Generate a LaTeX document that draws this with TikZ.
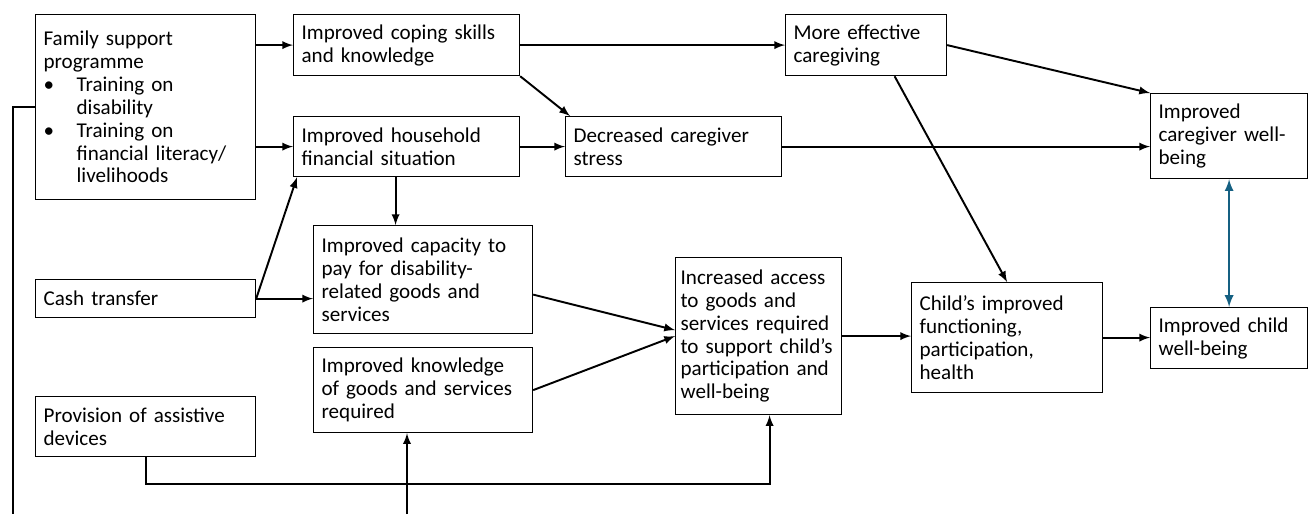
\documentclass[tikz,border=0pt]{standalone}
\usepackage{fontspec}
\setmainfont{Carlito}
\usepackage{tikz}
\usetikzlibrary{calc}

\definecolor{linkblue}{HTML}{156082}
\newcommand{\bulitem}{\makebox[0.66cm][l]{\textbullet}}
\newcommand{\bulindent}{\hspace*{0.66cm}}

\begin{document}
\begin{tikzpicture}[x=0.02cm, y=-0.02cm, >=latex,
    box/.style={draw, line width=0.7pt, anchor=north west, align=left,
        inner xsep=0.16cm, inner ysep=0.1cm, font=\fontsize{12}{13}\selectfont},
    arr/.style={->, line width=1.1pt}]
    \useasboundingbox (0,0) rectangle (1308,514);

    \node[box, text width=4.08cm, minimum height=3.7cm] (fam) at (35,14)
        {Family support\\programme\\\bulitem Training on\\\bulindent disability\\
         \bulitem Training on\\\bulindent financial literacy/\\\bulindent livelihoods};
    \node[box, text width=4.08cm, minimum height=0.76cm] (cash) at (35,279) {Cash transfer};
    \node[box, text width=4.08cm, minimum height=1.2cm] (prov) at (35,396)
        {Provision of assistive\\devices};

    \node[box, text width=4.2cm, minimum height=1.22cm] (cope) at (293,14)
        {Improved coping skills\\and knowledge};
    \node[box, text width=4.2cm, minimum height=1.2cm] (house) at (293,116)
        {Improved household\\financial situation};
    \node[box, text width=4.06cm, minimum height=2.16cm] (capac) at (313,225)
        {Improved capacity to\\pay for disability-\\related goods and\\services};
    \node[box, text width=4.06cm, minimum height=1.7cm] (know) at (313,347)
        {Improved knowledge\\of goods and services\\required};

    \node[box, text width=4.0cm, minimum height=1.2cm] (stress) at (565,116)
        {Decreased caregiver\\stress};
    \node[box, inner xsep=0.1cm, text width=3.12cm, minimum height=3.14cm] (access) at (675,257)
        {Increased access\\to goods and\\services required\\to support child’s\\participation and\\well-being};
    \node[box, text width=2.9cm, minimum height=1.22cm] (care) at (785,14)
        {More effective\\caregiving};
    \node[box, text width=3.5cm, minimum height=2.2cm] (child) at (911,282)
        {Child’s improved\\functioning,\\participation,\\health};

    \node[box, text width=2.82cm, minimum height=1.7cm] (cgwell) at (1150,93)
        {Improved\\caregiver well-\\being};
    \node[box, text width=2.82cm, minimum height=1.22cm] (chwell) at (1150,307)
        {Improved child\\well-being};

    % programme inputs
    \draw[arr] (fam.east |- cope.west) -- (cope.west);
    \draw[arr] (fam.east |- house.west) -- (house.west);
    \draw[arr] (cash.east) -- ([xshift=0.08cm]house.south west);
    \draw[arr] (cash.east) -- (cash.east -| capac.west);
    \draw[arr] (prov.south) -- ++(0,27) -| ([xshift=0.22cm]access.south);

    % feedback line from the programme
    \coordinate (fbot) at (13,514);
    \coordinate (kbot) at (407,514);
    \draw[line width=1.1pt] (fam.west) -| (fbot);
    \draw[arr] (kbot) -- (kbot |- know.south);

    % caregiver pathway
    \draw[arr] (cope.east) -- (care.west);
    \draw[arr] (cope.south east) -- ([xshift=0.1cm]stress.north west);
    \draw[arr] (house.east) -- (stress.west);
    \draw[arr] (stress.east) -- (stress.east -| cgwell.west);
    \draw[arr] (care.east) -- (cgwell.north west);
    \draw[arr] ([xshift=0.57cm]care.south) -- (child.north);

    % child pathway
    \draw[arr] ([xshift=-0.22cm]house.south) -- ([xshift=-0.22cm]house.south |- capac.north);
    \draw[arr] ([yshift=-0.3cm]capac.east) -- ([yshift=0.12cm]access.west);
    \draw[arr] (know.east) -- (access.west);
    \draw[arr] (access.east) -- (access.east -| child.west);
    \draw[arr] (child.east) -- (child.east -| chwell.west);
    \draw[<->, linkblue, line width=1.3pt] (cgwell.south) -- (chwell.north);
\end{tikzpicture}
\end{document}
